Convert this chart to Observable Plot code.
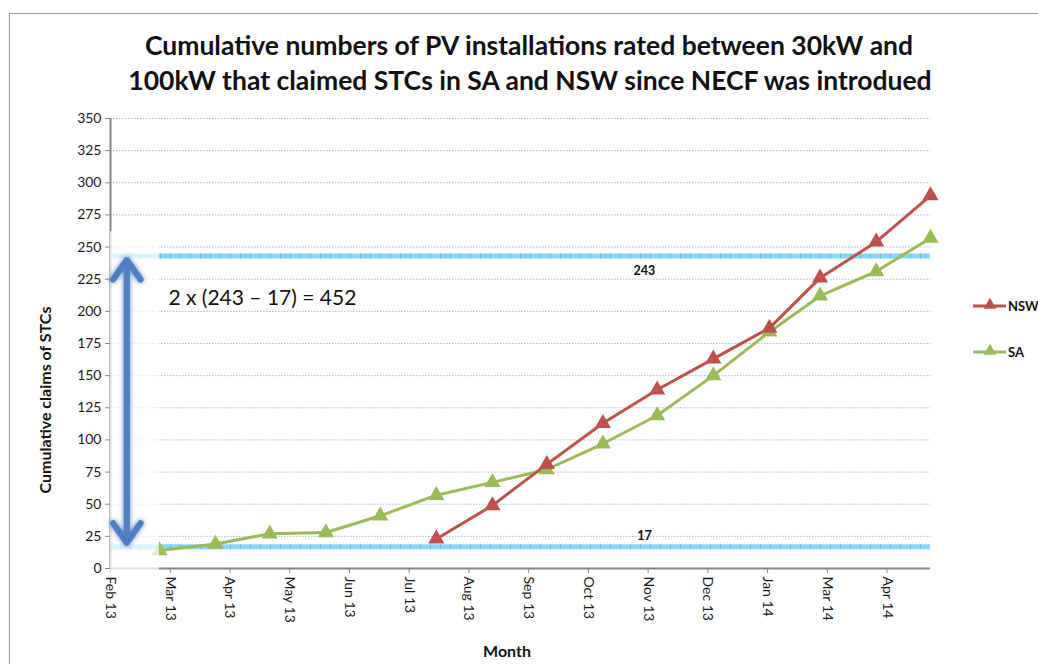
<!DOCTYPE html>
<html><head><meta charset="utf-8">
<script src="https://cdn.jsdelivr.net/npm/d3@7"></script>
<script src="https://cdn.jsdelivr.net/npm/@observablehq/plot@0.6"></script>
<style>
body{margin:0;background:#fff;}
#chart{position:relative;width:1038px;height:664px;overflow:hidden;}
</style></head><body><div id="chart"></div>
<script>
// ---- data ----
const months = ["2013-02-28","2013-03-31","2013-04-30","2013-05-31","2013-06-30","2013-07-31","2013-08-31","2013-09-30","2013-10-31","2013-11-30","2013-12-31","2014-01-31","2014-02-28","2014-03-31","2014-04-30"];
const saValues = [14,19,27,28,41,57,67,77,97,119,150,184,212,231,257];
const nswMonths = ["2013-07-31","2013-08-31","2013-09-30","2013-10-31","2013-11-30","2013-12-31","2014-01-31","2014-02-28","2014-03-31","2014-04-30"];
const nswValues = [23,49,81,113,139,163,187,226,254,290];
const tickDates = ["2013-02-01","2013-03-06","2013-04-08","2013-05-11","2013-06-13","2013-07-16","2013-08-18","2013-09-20","2013-10-23","2013-11-25","2013-12-28","2014-01-30","2014-03-04","2014-04-06"];
const tickLabels = ["Feb 13","Mar 13","Apr 13","May 13","Jun 13","Jul 13","Aug 13","Sep 13","Oct 13","Nov 13","Dec 13","Jan 14","Mar 14","Apr 14"];
const yTicks = [0,25,50,75,100,125,150,175,200,225,250,275,300,325,350];
const refValues = [243,17];
const refLabels = ["243","17"];
const xDomain = ["2013-02-01","2014-04-30"];

// ---- build ----
const D = s => new Date(s + "T00:00:00Z");
const sa = months.map((m,i) => ({date: D(m), value: saValues[i], series: "SA"}));
const nsw = nswMonths.map((m,i) => ({date: D(m), value: nswValues[i], series: "NSW"}));
const labelByTime = new Map(tickDates.map((d,i) => [+D(d), tickLabels[i]]));
const refs = refValues.map((v,i) => ({value: v, label: refLabels[i]}));
const NSW_C = "#c0504d", SA_C = "#9bbb59";
const FONT = "Lato, 'Open Sans', sans-serif";

// annotation positions in data units
const boxX1 = D("2013-02-01"), boxX2 = D("2013-02-28");
const arrowX = D("2013-02-10");
const arrowMid = 130;
const noteX = D("2013-03-05");
const refLabelX = D("2013-11-23");

const plot = Plot.plot({
  width: 1038, height: 664,
  marginLeft: 110, marginRight: 108, marginTop: 118, marginBottom: 96,
  style: {fontFamily: FONT, fontSize: "14px", color: "#1a1a1a", background: "white"},
  x: {type: "utc", domain: xDomain.map(D)},
  y: {domain: [0, 350]},
  marks: [
    Plot.gridY(yTicks, {stroke: "#a2bbdf", strokeOpacity: 1, strokeDasharray: "1.5,1.5"}),
    Plot.ruleY(refs, {y: "value", stroke: "#8ad6f5", strokeWidth: 5}),
    Plot.ruleY(refs, {y: "value", stroke: "#3bb0e3", strokeWidth: 5, strokeDasharray: "1,9", strokeOpacity: 0.6}),
    Plot.text(refs, {x: () => refLabelX, y: "value", text: "label", fontWeight: "bold", fontSize: 12.5, fill: "#111",
      filter: d => d.value > 100, dy: 15}),
    Plot.text(refs, {x: () => refLabelX, y: "value", text: "label", fontWeight: "bold", fontSize: 12.5, fill: "#111",
      filter: d => d.value < 100, dy: -11}),
    Plot.line(sa, {x: "date", y: "value", stroke: SA_C, strokeWidth: 3}),
    Plot.line(nsw, {x: "date", y: "value", stroke: NSW_C, strokeWidth: 3}),
    Plot.dot(sa, {x: "date", y: "value", symbol: "triangle", r: 6, fill: SA_C}),
    Plot.dot(nsw, {x: "date", y: "value", symbol: "triangle", r: 6, fill: NSW_C}),
    Plot.ruleY([0], {stroke: "#868686", strokeWidth: 2}),
    Plot.ruleX([D(xDomain[0])], {y1: 0, y2: 350, stroke: "#868686", strokeWidth: 2}),
    Plot.axisY(yTicks, {tickSize: 5, stroke: "#868686", label: null, tickPadding: 4, fontSize: 14}),
    Plot.axisX(tickDates.map(D), {tickSize: 5, stroke: "#868686", label: null, tickRotate: 90, tickPadding: 3, fontSize: 14,
      tickFormat: d => labelByTime.get(+d)}),
    // faded text box
    Plot.rect([0], {x1: () => boxX1, x2: () => boxX2, y1: () => -6, y2: () => 262, fill: "white", fillOpacity: 0.72}),
    // double arrow
    Plot.arrow([243, 17], {x1: () => arrowX, x2: () => arrowX, y1: () => arrowMid, y2: d => d > 100 ? 240 : 20,
      stroke: "#4f7fc0", strokeWidth: 6, headLength: 6, headAngle: 70}),
    Plot.text(["2 x (243 \u2013 17) = 452"], {x: () => noteX, y: () => 210, text: d => d, textAnchor: "start", fontSize: 21, fill: "#111"})
  ]
});

document.getElementById("chart").appendChild(plot);
const svg = d3.select(plot);
svg.style("overflow", "visible");

// soft glow for arrow
const defs = svg.insert("defs", ":first-child");
const f = defs.append("filter").attr("id", "glow").attr("x", "-50%").attr("y", "-10%").attr("width", "200%").attr("height", "120%");
f.append("feGaussianBlur").attr("in", "SourceGraphic").attr("stdDeviation", 2.5).attr("result", "b");
const fm = f.append("feMerge");
fm.append("feMergeNode").attr("in", "b");
fm.append("feMergeNode").attr("in", "SourceGraphic");
svg.selectAll("g[aria-label='arrow']").attr("filter", "url(#glow)");

// border
svg.insert("rect", "defs + *").attr("x", 9.5).attr("y", 13.5).attr("width", 1100).attr("height", 700)
  .attr("fill", "white").attr("stroke", "#9a9a9a");

// title
const title = svg.append("text").attr("text-anchor", "middle").attr("font-family", FONT)
  .attr("font-weight", "bold").attr("font-size", 26.5).attr("fill", "#111");
title.append("tspan").attr("x", 529).attr("y", 55).text("Cumulative numbers of PV installations rated between 30kW and");
title.append("tspan").attr("x", 530).attr("y", 90).text("100kW that claimed STCs in SA and NSW since NECF was introdued");

// axis titles
svg.append("text").attr("x", 507).attr("y", 657).attr("text-anchor", "middle").attr("font-family", FONT)
  .attr("font-weight", "bold").attr("font-size", 16).attr("fill", "#111").text("Month");
svg.append("text").attr("transform", "translate(51,400) rotate(-90)").attr("text-anchor", "middle").attr("font-family", FONT)
  .attr("font-weight", "bold").attr("font-size", 16).attr("fill", "#111").text("Cumulative claims of STCs");

// legend
const legend = [{name: "NSW", color: NSW_C, y: 306}, {name: "SA", color: SA_C, y: 352}];
const tri = d3.symbol(d3.symbolTriangle, 70)();
legend.forEach(l => {
  const g = svg.append("g").attr("transform", `translate(973,${l.y})`);
  g.append("line").attr("x1", 0).attr("x2", 33).attr("stroke", l.color).attr("stroke-width", 3);
  g.append("path").attr("d", tri).attr("transform", "translate(17,-1)").attr("fill", l.color);
  g.append("text").attr("x", 35).attr("dy", "0.35em").attr("text-anchor", "start").attr("font-family", FONT).attr("font-weight", "bold")
    .attr("font-size", 13).attr("fill", "#111").text(l.name);
});
</script></body></html>
